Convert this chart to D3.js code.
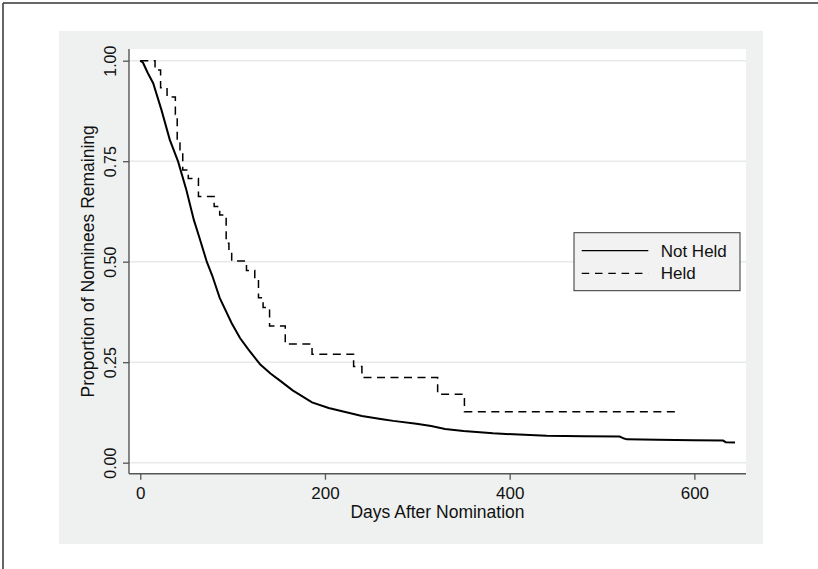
<!DOCTYPE html>
<html>
<head>
<meta charset="utf-8">
<script src="https://cdn.jsdelivr.net/npm/d3@7"></script>
<style>
  body { margin: 0; background: #fff; }
  svg { display: block; font-family: "Liberation Sans", Arial, Helvetica, sans-serif; }
</style>
</head>
<body>
<svg width="818" height="569"></svg>
<script>
// Kaplan-Meier estimates
var notHeldDays = [0, 3, 8, 14, 23, 32, 41, 50, 58, 64, 72, 78, 86, 99, 108, 117, 130, 141, 152, 165, 186, 204, 222, 240, 262, 274, 299, 315, 330, 350, 382, 410, 440, 480, 519, 524, 527, 560, 599, 631, 634, 644];
var notHeldSurv = [1.000, 0.995, 0.970, 0.944, 0.877, 0.803, 0.749, 0.678, 0.604, 0.560, 0.500, 0.465, 0.410, 0.347, 0.310, 0.282, 0.244, 0.222, 0.203, 0.180, 0.150, 0.136, 0.126, 0.116, 0.108, 0.104, 0.097, 0.091, 0.084, 0.079, 0.073, 0.070, 0.067, 0.066, 0.065, 0.060, 0.058, 0.057, 0.056, 0.055, 0.051, 0.050];

var heldDays = [0, 16, 22, 29, 38, 40, 43, 46, 52, 63, 80, 86, 93, 96, 99, 115, 124, 128, 133, 140, 157, 186, 231, 240, 322, 351, 579];
var heldSurv = [1.000, 0.977, 0.933, 0.910, 0.866, 0.795, 0.770, 0.728, 0.707, 0.662, 0.637, 0.616, 0.546, 0.524, 0.502, 0.478, 0.455, 0.410, 0.386, 0.340, 0.295, 0.270, 0.239, 0.212, 0.170, 0.127, 0.127];

var xTicks = [0, 200, 400, 600];
var yTicks = [0, 0.25, 0.5, 0.75, 1];
var seriesNames = ["Not Held", "Held"];

var svg = d3.select("svg");

// frame of the cropped figure
svg.append("line").attr("x1", 3).attr("y1", 3).attr("x2", 818).attr("y2", 3)
  .attr("stroke", "#333").attr("stroke-width", 1.5);
svg.append("line").attr("x1", 3).attr("y1", 3).attr("x2", 3).attr("y2", 569)
  .attr("stroke", "#333").attr("stroke-width", 1.5);

// graph region
svg.append("rect")
  .attr("x", 59).attr("y", 31)
  .attr("width", 704).attr("height", 513)
  .attr("fill", "#eff1f0");

var plotL = 129, plotR = 746, plotT = 49, plotB = 473.7;

svg.append("rect")
  .attr("x", plotL).attr("y", plotT)
  .attr("width", plotR - plotL).attr("height", plotB - plotT)
  .attr("fill", "#fff");

var x = d3.scaleLinear().domain([-12.2, 655.9]).range([plotL, plotR]);
var y = d3.scaleLinear().domain([-0.0274, 1.0291]).range([plotB, plotT]);

// grid
svg.append("g")
  .selectAll("line")
  .data(yTicks)
  .enter()
  .append("line")
  .attr("x1", plotL).attr("x2", plotR)
  .attr("y1", d => y(d)).attr("y2", d => y(d))
  .attr("stroke", "#e8eaea")
  .attr("stroke-width", 1.4);

// axes
var xAxis = svg.append("g")
  .attr("transform", "translate(0," + plotB + ")")
  .call(d3.axisBottom(x).tickValues(xTicks).tickSize(6).tickPadding(7).tickFormat(d3.format("d")));

var yAxis = svg.append("g")
  .attr("transform", "translate(" + plotL + ",0)")
  .call(d3.axisLeft(y).tickValues(yTicks).tickSize(6).tickFormat(d3.format(".2f")));

[xAxis, yAxis].forEach(function(a) {
  a.select(".domain").remove();
  a.selectAll(".tick line").attr("stroke", "#555").attr("stroke-width", 1.3);
  a.selectAll(".tick text").attr("fill", "#111");
  a.attr("font-family", null);
});
xAxis.attr("font-size", 17);
yAxis.attr("font-size", 16)
  .selectAll(".tick text")
  .attr("transform", "rotate(-90)")
  .attr("x", 0)
  .attr("y", -18.7)
  .attr("dy", "0.36em")
  .attr("text-anchor", "middle");

svg.append("line").attr("x1", plotL).attr("x2", plotR).attr("y1", plotB).attr("y2", plotB)
  .attr("stroke", "#555").attr("stroke-width", 1.4);
svg.append("line").attr("x1", plotL).attr("x2", plotL).attr("y1", plotT).attr("y2", plotB)
  .attr("stroke", "#555").attr("stroke-width", 1.4);

// titles
svg.append("text")
  .attr("x", (plotL + plotR) / 2)
  .attr("y", 518)
  .attr("text-anchor", "middle")
  .attr("font-size", 17.5)
  .attr("fill", "#111")
  .text("Days After Nomination");

svg.append("text")
  .attr("transform", "translate(88," + ((plotT + plotB) / 2) + ") rotate(-90)")
  .attr("dy", "0.36em")
  .attr("text-anchor", "middle")
  .attr("font-size", 17.5)
  .attr("fill", "#111")
  .text("Proportion of Nominees Remaining");

// curves
var notHeld = notHeldDays.map((d, i) => ({ day: d, s: notHeldSurv[i] }));
var held = heldDays.map((d, i) => ({ day: d, s: heldSurv[i] }));

svg.append("path")
  .datum(notHeld)
  .attr("d", d3.line().x(d => x(d.day)).y(d => y(d.s)))
  .attr("fill", "none")
  .attr("stroke", "#000")
  .attr("stroke-width", 2);

svg.append("path")
  .datum(held)
  .attr("d", d3.line().curve(d3.curveStepAfter).x(d => x(d.day)).y(d => y(d.s)))
  .attr("fill", "none")
  .attr("stroke", "#000")
  .attr("stroke-width", 1.5)
  .attr("stroke-dasharray", "8,5.5");

// legend
var lg = svg.append("g");
lg.append("rect")
  .attr("x", 574).attr("y", 232.7)
  .attr("width", 166).attr("height", 58)
  .attr("fill", "#f1f2f1")
  .attr("stroke", "#333")
  .attr("stroke-width", 1);

var rowY = [250.7, 273.3];
var dashes = [null, "7.5,5.8"];
lg.selectAll(".key")
  .data(seriesNames)
  .enter()
  .append("line")
  .attr("x1", 581.7).attr("x2", 648.3)
  .attr("y1", (d, i) => rowY[i]).attr("y2", (d, i) => rowY[i])
  .attr("stroke", "#000")
  .attr("stroke-width", 1.3)
  .attr("stroke-dasharray", (d, i) => dashes[i]);

lg.selectAll(".lab")
  .data(seriesNames)
  .enter()
  .append("text")
  .attr("x", 660.7)
  .attr("y", (d, i) => rowY[i])
  .attr("dy", "0.36em")
  .attr("font-size", 17)
  .attr("fill", "#111")
  .text(d => d);
</script>
</body>
</html>
